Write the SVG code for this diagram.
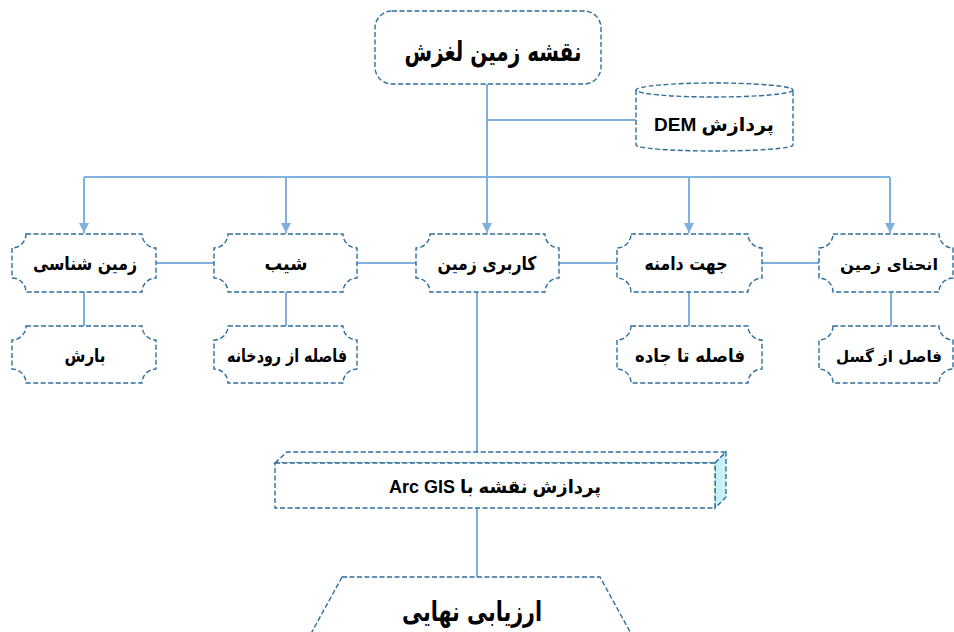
<svg xmlns="http://www.w3.org/2000/svg" width="954" height="632" viewBox="0 0 954 632">
  <style>
    .shape { fill: #ffffff; stroke: #2e6f9e; stroke-width: 1.4; stroke-dasharray: 5 2.5; }
    .side { fill: #c6f2f6; stroke: #2e6f9e; stroke-width: 1.4; stroke-dasharray: 5 2.5; }
    .link { fill: none; stroke: #7fb1de; stroke-width: 2; }
    .lbl { font-family: "DejaVu Sans", "Liberation Sans", sans-serif; font-weight: bold; fill: #000000; text-anchor: middle; direction: rtl; unicode-bidi: embed; }
    .mix { font-family: "Liberation Sans", "DejaVu Sans", sans-serif; }
    .t1 { font-size: 19px; }
    .t2 { font-size: 18px; }
    .t3 { font-size: 16px; }
  </style>
  <defs>
    <marker id="arrow" viewBox="0 0 10 10" refX="10" refY="5" markerWidth="5" markerHeight="5" orient="auto" markerUnits="strokeWidth">
      <path d="M0,0 L10,5 L0,10 Z" fill="#7fb1de"/>
    </marker>
  </defs>

  <!-- connectors -->
  <g id="connectors">
    <path class="link" d="M487,84 V177"/>
    <path class="link" d="M487,120 H636"/>
    <path class="link" d="M84,177 H890"/>
    <path class="link" d="M84,177 V233" marker-end="url(#arrow)"/>
    <path class="link" d="M286,177 V233" marker-end="url(#arrow)"/>
    <path class="link" d="M487,177 V233" marker-end="url(#arrow)"/>
    <path class="link" d="M689,177 V233" marker-end="url(#arrow)"/>
    <path class="link" d="M890,177 V233" marker-end="url(#arrow)"/>
    <path class="link" d="M156,263 H214 M357,263 H416 M559,263 H617 M762,263 H819"/>
    <path class="link" d="M84,292 V326 M286,292 V326 M689,292 V326 M891,292 V326"/>
    <path class="link" d="M477,292 V452"/>
    <path class="link" d="M477,508 V577"/>
  </g>

  <!-- title -->
  <g id="landslide-map">
    <rect class="shape" x="375" y="11" width="226" height="73" rx="17" ry="17"/>
    <text class="lbl" x="493" y="61" font-size="27" textLength="177" lengthAdjust="spacingAndGlyphs">نقشه زمین لغزش</text>
  </g>

  <!-- DEM store -->
  <g id="dem">
    <path class="shape" d="M636,90 V145 A78.5,6 0 0 0 793,145 V90"/>
    <ellipse class="shape" cx="714.5" cy="90" rx="78.5" ry="7"/>
    <text class="lbl mix t1" x="714" y="131">پردازش DEM</text>
  </g>

  <!-- level one -->
  <g id="geology">
    <path class="shape" d="M26,234 H142 A14,14 0 0 0 156,248 V278 A14,14 0 0 0 142,292 H26 A14,14 0 0 0 12,278 V248 A14,14 0 0 0 26,234 Z"/>
    <text class="lbl t1" x="85" y="270" textLength="104" lengthAdjust="spacingAndGlyphs">زمین شناسی</text>
  </g>
  <g id="slope">
    <path class="shape" d="M228,234 H343 A14,14 0 0 0 357,248 V278 A14,14 0 0 0 343,292 H228 A14,14 0 0 0 214,278 V248 A14,14 0 0 0 228,234 Z"/>
    <text class="lbl t1" x="286" y="270" textLength="43" lengthAdjust="spacingAndGlyphs">شیب</text>
  </g>
  <g id="landuse">
    <path class="shape" d="M430,234 H545 A14,14 0 0 0 559,248 V278 A14,14 0 0 0 545,292 H430 A14,14 0 0 0 416,278 V248 A14,14 0 0 0 430,234 Z"/>
    <text class="lbl t1" x="487" y="270" textLength="99" lengthAdjust="spacingAndGlyphs">کاربری زمین</text>
  </g>
  <g id="aspect">
    <path class="shape" d="M631,234 H748 A14,14 0 0 0 762,248 V278 A14,14 0 0 0 748,292 H631 A14,14 0 0 0 617,278 V248 A14,14 0 0 0 631,234 Z"/>
    <text class="lbl t1" x="686" y="270" textLength="83" lengthAdjust="spacingAndGlyphs">جهت دامنه</text>
  </g>
  <g id="curvature">
    <path class="shape" d="M833,234 H939 A14,14 0 0 0 953,248 V278 A14,14 0 0 0 939,292 H833 A14,14 0 0 0 819,278 V248 A14,14 0 0 0 833,234 Z"/>
    <text class="lbl t3" x="889" y="270" textLength="98" lengthAdjust="spacingAndGlyphs">انحنای زمین</text>
  </g>

  <!-- level two -->
  <g id="rainfall">
    <path class="shape" d="M26,326 H142 A14,14 0 0 0 156,340 V369 A14,14 0 0 0 142,383 H26 A14,14 0 0 0 12,369 V340 A14,14 0 0 0 26,326 Z"/>
    <text class="lbl t2" x="85" y="362" textLength="41" lengthAdjust="spacingAndGlyphs">بارش</text>
  </g>
  <g id="river-distance">
    <path class="shape" d="M228,326 H343 A14,14 0 0 0 357,340 V369 A14,14 0 0 0 343,383 H228 A14,14 0 0 0 214,369 V340 A14,14 0 0 0 228,326 Z"/>
    <text class="lbl t2" x="287" y="362" textLength="120" lengthAdjust="spacingAndGlyphs">فاصله از رودخانه</text>
  </g>
  <g id="road-distance">
    <path class="shape" d="M631,326 H748 A14,14 0 0 0 762,340 V369 A14,14 0 0 0 748,383 H631 A14,14 0 0 0 617,369 V340 A14,14 0 0 0 631,326 Z"/>
    <text class="lbl t2" x="690" y="362" textLength="110" lengthAdjust="spacingAndGlyphs">فاصله تا جاده</text>
  </g>
  <g id="fault-distance">
    <path class="shape" d="M833,326 H939 A14,14 0 0 0 953,340 V369 A14,14 0 0 0 939,383 H833 A14,14 0 0 0 819,369 V340 A14,14 0 0 0 833,326 Z"/>
    <text class="lbl t3" x="889" y="362" textLength="106" lengthAdjust="spacingAndGlyphs">فاصل از گسل</text>
  </g>

  <!-- GIS processing block -->
  <g id="arcgis">
    <polygon class="shape" points="275,463 287,452 726,452 715,463"/>
    <polygon class="side" points="715,463 726,452 726,497 715,508"/>
    <rect class="shape" x="275" y="463" width="440" height="45"/>
    <text class="lbl mix t2" x="495" y="493">پردازش نقشه با Arc GIS</text>
  </g>

  <!-- final evaluation -->
  <g id="evaluation">
    <polygon class="shape" points="342,577 600,577 640,650 302,650"/>
    <text class="lbl" x="472" y="621" font-size="28" textLength="140" lengthAdjust="spacingAndGlyphs">ارزیابی نهایی</text>
  </g>
</svg>
